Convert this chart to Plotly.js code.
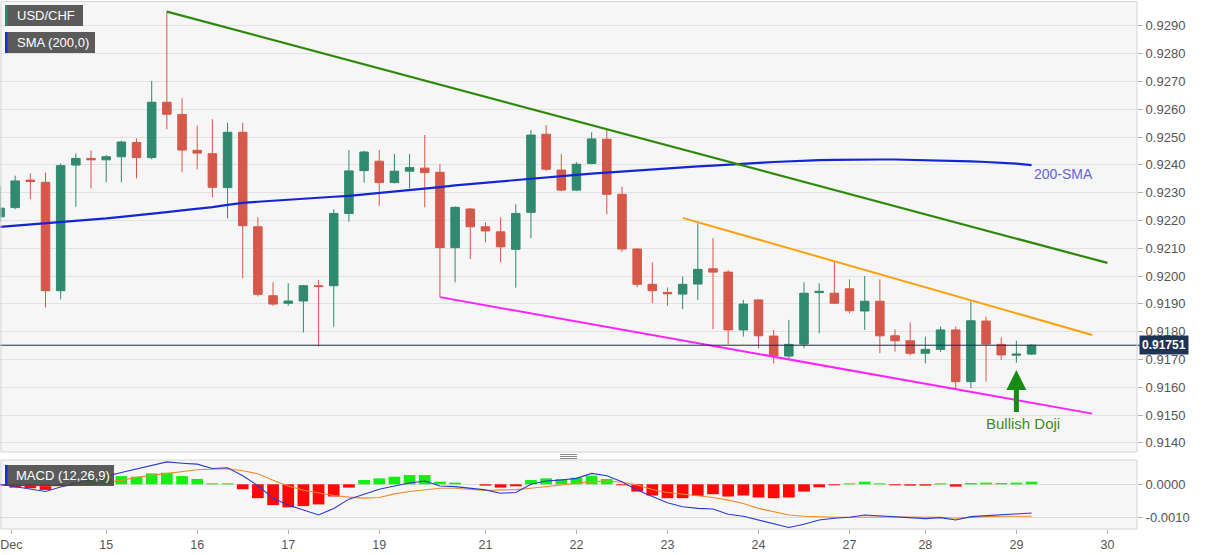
<!DOCTYPE html>
<html>
<head>
<meta charset="utf-8">
<script src="https://cdn.plot.ly/plotly-3.0.1.min.js"></script>
<style>
  html, body { margin: 0; padding: 0; background: #ffffff; }
  #chart { width: 1207px; height: 555px; }
</style>
</head>
<body>
<div id="chart"></div>
<script>
// ---------------- DATA ----------------
const candleIdx = Array.from({length: 69}, (_, i) => i);

const openV = [
  0.92213, 0.92246, 0.92345, 0.92337, 0.91947, 0.92399, 0.92423, 0.92418, 0.92429, 0.92480,
  0.92426, 0.92625, 0.92581, 0.92452, 0.92440, 0.92318, 0.92517, 0.92177, 0.91929, 0.91902,
  0.91910, 0.91965, 0.91965, 0.92225, 0.92379, 0.92413, 0.92336, 0.92377, 0.92388, 0.92373,
  0.92102, 0.92241, 0.92177, 0.92159, 0.92096, 0.92229, 0.92510, 0.92381, 0.92309, 0.92405,
  0.92492, 0.92294, 0.92097, 0.91970, 0.91941, 0.91935, 0.91971, 0.92026, 0.92014, 0.91806,
  0.91914, 0.91784, 0.91712, 0.91755, 0.91940, 0.91938, 0.91954, 0.91874, 0.91909, 0.91785,
  0.91767, 0.91722, 0.91736, 0.91806, 0.91620, 0.91838, 0.91754, 0.91715, 0.91719
];
const highV = [
  0.92324, 0.92361, 0.92369, 0.92372, 0.92405, 0.92441, 0.92451, 0.92435, 0.92487, 0.92495,
  0.92701, 0.92951, 0.92639, 0.92541, 0.92564, 0.92551, 0.92551, 0.92211, 0.91977, 0.91974,
  0.91968, 0.91986, 0.92240, 0.92453, 0.92450, 0.92453, 0.92439, 0.92439, 0.92507, 0.92402,
  0.92250, 0.92245, 0.92193, 0.92211, 0.92258, 0.92525, 0.92543, 0.92439, 0.92409, 0.92517,
  0.92525, 0.92321, 0.92100, 0.92049, 0.91959, 0.91998, 0.92190, 0.92136, 0.92022, 0.91914,
  0.91916, 0.91806, 0.91842, 0.91977, 0.91974, 0.92051, 0.91988, 0.92000, 0.91988, 0.91808,
  0.91833, 0.91782, 0.91818, 0.91818, 0.91908, 0.91854, 0.91779, 0.91767, 0.91754
];
const lowV = [
  0.92195, 0.92240, 0.92276, 0.91887, 0.91916, 0.92249, 0.92315, 0.92337, 0.92337, 0.92351,
  0.92420, 0.92528, 0.92373, 0.92384, 0.92283, 0.92207, 0.91992, 0.91926, 0.91893, 0.91893,
  0.91797, 0.91746, 0.91818, 0.92195, 0.92336, 0.92252, 0.92333, 0.92315, 0.92247, 0.91924,
  0.91977, 0.92061, 0.92121, 0.92049, 0.91958, 0.92136, 0.92378, 0.92305, 0.92305, 0.92402,
  0.92222, 0.92087, 0.91959, 0.91902, 0.91893, 0.91881, 0.91914, 0.91809, 0.91754, 0.91782,
  0.91740, 0.91686, 0.91698, 0.91740, 0.91794, 0.91900, 0.91866, 0.91806, 0.91722, 0.91728,
  0.91715, 0.91686, 0.91727, 0.91596, 0.91596, 0.91620, 0.91698, 0.91688, 0.91716
];
const closeV = [
  0.92244, 0.92342, 0.92340, 0.91947, 0.92397, 0.92423, 0.92418, 0.92429, 0.92482, 0.92426,
  0.92625, 0.92582, 0.92453, 0.92442, 0.92319, 0.92517, 0.92181, 0.91934, 0.91899, 0.91910,
  0.91965, 0.91962, 0.92225, 0.92378, 0.92446, 0.92336, 0.92377, 0.92390, 0.92372, 0.92102,
  0.92247, 0.92177, 0.92162, 0.92105, 0.92225, 0.92507, 0.92384, 0.92309, 0.92402, 0.92493,
  0.92294, 0.92097, 0.91970, 0.91947, 0.91936, 0.91970, 0.92024, 0.92014, 0.91806, 0.91899,
  0.91785, 0.91712, 0.91754, 0.91938, 0.91945, 0.91902, 0.91875, 0.91909, 0.91785, 0.91767,
  0.91722, 0.91736, 0.91806, 0.91620, 0.91839, 0.91755, 0.91716, 0.91719, 0.91751
];
const sma200 = [
  0.92177, 0.92181, 0.92185, 0.92189, 0.92194, 0.92198, 0.92202, 0.92207, 0.92213, 0.92218,
  0.92224, 0.92230, 0.92236, 0.92241, 0.92248, 0.92256, 0.92263, 0.92267, 0.92271, 0.92275,
  0.92278, 0.92282, 0.92285, 0.92288, 0.92293, 0.92298, 0.92304, 0.92309, 0.92315, 0.92320,
  0.92326, 0.92331, 0.92335, 0.92340, 0.92345, 0.92350, 0.92355, 0.92360, 0.92364, 0.92368,
  0.92372, 0.92375, 0.92378, 0.92382, 0.92386, 0.92390, 0.92394, 0.92397, 0.92401, 0.92404,
  0.92407, 0.92410, 0.92413, 0.92415, 0.92417, 0.92418, 0.92419, 0.92419, 0.92419, 0.92419,
  0.92418, 0.92417, 0.92415, 0.92414, 0.92412, 0.92410, 0.92408, 0.92404, 0.92399
];
const macdLine = [
  0.00000, -0.00007, -0.00014, -0.00022, -0.00008, 0.00002, 0.00012, 0.00024, 0.00036, 0.00046,
  0.00058, 0.00068, 0.00064, 0.00061, 0.00048, 0.00050, 0.00026, -0.00004, -0.00042, -0.00063,
  -0.00078, -0.00093, -0.00073, -0.00045, -0.00030, -0.00015, -0.00005, 0.00004, 0.00010, -0.00005,
  -0.00007, -0.00012, -0.00017, -0.00027, -0.00025, 0.00000, 0.00010, 0.00013, 0.00018, 0.00033,
  0.00026, 0.00008, -0.00017, -0.00037, -0.00056, -0.00068, -0.00073, -0.00075, -0.00091, -0.00097,
  -0.00109, -0.00121, -0.00131, -0.00121, -0.00108, -0.00103, -0.00100, -0.00093, -0.00096, -0.00099,
  -0.00101, -0.00104, -0.00101, -0.00108, -0.00098, -0.00095, -0.00093, -0.00091, -0.00087
];
const signalLine = [
  -0.00002, -0.00003, -0.00004, -0.00005, -0.00005, -0.00003, 0.00000, 0.00005, 0.00012, 0.00021,
  0.00027, 0.00033, 0.00039, 0.00044, 0.00046, 0.00047, 0.00041, 0.00032, 0.00012, -0.00005,
  -0.00018, -0.00027, -0.00034, -0.00039, -0.00042, -0.00040, -0.00029, -0.00022, -0.00016, -0.00012,
  -0.00012, -0.00016, -0.00019, -0.00017, -0.00016, -0.00012, -0.00007, -0.00002, 0.00003, 0.00008,
  0.00010, 0.00006, -0.00002, -0.00016, -0.00025, -0.00030, -0.00034, -0.00040, -0.00048, -0.00058,
  -0.00073, -0.00083, -0.00093, -0.00097, -0.00099, -0.00100, -0.00100, -0.00099, -0.00099, -0.00099,
  -0.00099, -0.00099, -0.00100, -0.00103, -0.00100, -0.00098, -0.00097, -0.00097, -0.00097
];
const macdHist = [
  -0.00005, -0.00010, -0.00012, -0.00017, -0.00005, 0.00005, 0.00012, 0.00020, 0.00025, 0.00023,
  0.00033, 0.00035, 0.00025, 0.00016, 0.00003, 0.00003, -0.00015, -0.00042, -0.00063, -0.00070,
  -0.00066, -0.00061, -0.00037, -0.00010, 0.00013, 0.00018, 0.00023, 0.00028, 0.00028, 0.00008,
  0.00005, 0.00000, -0.00004, -0.00010, -0.00006, 0.00013, 0.00018, 0.00016, 0.00020, 0.00026,
  0.00016, -0.00003, -0.00022, -0.00034, -0.00042, -0.00042, -0.00035, -0.00030, -0.00037, -0.00034,
  -0.00040, -0.00042, -0.00040, -0.00022, -0.00009, -0.00003, 0.00003, 0.00008, 0.00003, -0.00003,
  -0.00004, -0.00004, 0.00003, -0.00007, 0.00004, 0.00005, 0.00004, 0.00005, 0.00008
];

// trend lines (anchor candle index, price)
const greenTrendX = [11, 73];
const greenTrendY = [0.92951, 0.92047];
const orangeTrendX = [45, 72];
const orangeTrendY = [0.92209, 0.91788];
const magentaTrendX = [29, 72];
const magentaTrendY = [0.91924, 0.91505];

const currentPrice = 0.91751;
const dojiIdx = 67;
const arrowTip = 0.91662;
const arrowTail = 0.91505;
const dojiTextY = 0.91468;
const smaLabelX = 68;
const smaLabelY = 0.92367;

const tickIdx = [0.75, 7, 13, 19, 25, 32, 38, 44, 50, 56, 61, 67, 73];
const tickLabels = ['Dec', '15', '16', '17', '19', '21', '22', '23', '24', '27', '28', '29', '30'];
const priceTicks = [0.9140, 0.9150, 0.9160, 0.9170, 0.9180, 0.9190, 0.9200, 0.9210, 0.9220,
                    0.9230, 0.9240, 0.9250, 0.9260, 0.9270, 0.9280, 0.9290];
const macdTicks = [0, -0.001];
const macdTickLabels = ['0.0000', '-0.0010'];

// ---------------- LAYOUT helpers (pixel -> paper) ----------------
const W = 1207, H = 555, ML = 0, MR = 70, MT = 1, MB = 26;
const PW = W - ML - MR, PH = H - MT - MB;
const px = x => (x - ML) / PW;
const py = y => (H - MB - y) / PH;

const FONT = 'Liberation Sans, Arial, sans-serif';
const UP = '#2f8a6f', DOWN = '#d5584a';

const traces = [
  {
    type: 'candlestick', x: candleIdx, open: openV, high: highV, low: lowV, close: closeV,
    xaxis: 'x', yaxis: 'y', whiskerwidth: 0,
    increasing: {line: {color: UP, width: 1}, fillcolor: UP},
    decreasing: {line: {color: DOWN, width: 1}, fillcolor: DOWN},
    hoverinfo: 'skip'
  },
  { type: 'scatter', mode: 'lines', x: candleIdx, y: sma200, xaxis: 'x', yaxis: 'y',
    line: {color: '#1426d4', width: 2.2}, hoverinfo: 'skip' },
  { type: 'scatter', mode: 'lines', x: greenTrendX, y: greenTrendY, xaxis: 'x', yaxis: 'y',
    line: {color: '#2f8a0c', width: 2.2}, hoverinfo: 'skip' },
  { type: 'scatter', mode: 'lines', x: orangeTrendX, y: orangeTrendY, xaxis: 'x', yaxis: 'y',
    line: {color: '#ffa010', width: 2}, hoverinfo: 'skip' },
  { type: 'scatter', mode: 'lines', x: magentaTrendX, y: magentaTrendY, xaxis: 'x', yaxis: 'y',
    line: {color: '#ff22ff', width: 2}, hoverinfo: 'skip' },
  { type: 'bar', x: candleIdx, y: macdHist, xaxis: 'x', yaxis: 'y2',
    marker: {color: macdHist.map(v => v >= 0 ? '#14ee14' : '#ff0808'), line: {width: 0}},
    hoverinfo: 'skip' },
  { type: 'scatter', mode: 'lines', x: candleIdx, y: signalLine, xaxis: 'x', yaxis: 'y2',
    line: {color: '#f08a2c', width: 1.1}, hoverinfo: 'skip' },
  { type: 'scatter', mode: 'lines', x: candleIdx, y: macdLine, xaxis: 'x', yaxis: 'y2',
    line: {color: '#2a3ad0', width: 1.1}, hoverinfo: 'skip' }
];

const topDomain = [py(452), py(MT)];
const macdDomain = [py(529), py(460)];

const shapes = [
  // current price line
  {type: 'line', xref: 'paper', yref: 'y', x0: 0, x1: px(1140), y0: currentPrice, y1: currentPrice,
   line: {color: '#1c2d4a', width: 1}, layer: 'above'},
  // panel borders
  {type: 'rect', xref: 'paper', yref: 'paper', x0: px(1), x1: px(1137), y0: py(452), y1: py(1.5),
   line: {color: '#d4d4d4', width: 1}, fillcolor: 'rgba(0,0,0,0)', layer: 'above'},
  {type: 'rect', xref: 'paper', yref: 'paper', x0: px(1), x1: px(1137), y0: py(529), y1: py(460),
   line: {color: '#d4d4d4', width: 1}, fillcolor: 'rgba(0,0,0,0)', layer: 'above'},
  // panel handle
  {type: 'line', xref: 'paper', yref: 'paper', x0: px(560), x1: px(577), y0: py(454.5), y1: py(454.5), line: {color: '#888', width: 1}},
  {type: 'line', xref: 'paper', yref: 'paper', x0: px(560), x1: px(577), y0: py(456.5), y1: py(456.5), line: {color: '#888', width: 1}},
  {type: 'line', xref: 'paper', yref: 'paper', x0: px(560), x1: px(577), y0: py(458.5), y1: py(458.5), line: {color: '#888', width: 1}},
  // legend boxes
  {type: 'rect', xref: 'paper', yref: 'paper', x0: px(5), x1: px(83), y0: py(26), y1: py(5),
   fillcolor: '#5b5b5b', line: {width: 0}, layer: 'above'},
  {type: 'rect', xref: 'paper', yref: 'paper', x0: px(5), x1: px(7.5), y0: py(26), y1: py(5),
   fillcolor: '#2a8a6e', line: {width: 0}, layer: 'above'},
  {type: 'rect', xref: 'paper', yref: 'paper', x0: px(5), x1: px(95), y0: py(53), y1: py(32),
   fillcolor: '#5b5b5b', line: {width: 0}, layer: 'above'},
  {type: 'rect', xref: 'paper', yref: 'paper', x0: px(5), x1: px(7.5), y0: py(53), y1: py(32),
   fillcolor: '#1b2fd0', line: {width: 0}, layer: 'above'},
  {type: 'rect', xref: 'paper', yref: 'paper', x0: px(5), x1: px(114), y0: py(486), y1: py(465),
   fillcolor: 'rgba(70,70,70,0.88)', line: {width: 0}, layer: 'above'},
  {type: 'rect', xref: 'paper', yref: 'paper', x0: px(5), x1: px(7.5), y0: py(486), y1: py(465),
   fillcolor: '#1b2fd0', line: {width: 0}, layer: 'above'}
];

const annotations = [
  {xref: 'paper', yref: 'paper', x: px(15), y: py(15.5), xanchor: 'left', yanchor: 'middle',
   text: 'USD/CHF', showarrow: false, font: {family: FONT, size: 13, color: '#ffffff'}},
  {xref: 'paper', yref: 'paper', x: px(15), y: py(42.5), xanchor: 'left', yanchor: 'middle',
   text: 'SMA (200,0)', showarrow: false, font: {family: FONT, size: 13, color: '#ffffff'}},
  {xref: 'paper', yref: 'paper', x: px(14), y: py(475.5), xanchor: 'left', yanchor: 'middle',
   text: 'MACD (12,26,9)', showarrow: false, font: {family: FONT, size: 13, color: '#ffffff'}},
  {xref: 'x', yref: 'y', x: smaLabelX, y: smaLabelY, xanchor: 'left', yanchor: 'middle',
   text: '200-SMA', showarrow: false, font: {family: FONT, size: 14, color: '#6464d8'}},
  {xref: 'x', yref: 'y', x: dojiIdx + 0.45, y: dojiTextY, xanchor: 'center', yanchor: 'middle',
   text: 'Bullish Doji', showarrow: false, font: {family: FONT, size: 15, color: '#3c8c24'}},
  {xref: 'x', yref: 'y', axref: 'x', ayref: 'y', x: dojiIdx, y: arrowTip, ax: dojiIdx, ay: arrowTail,
   text: '', showarrow: true, arrowhead: 2, arrowsize: 0.8, arrowwidth: 5, arrowcolor: '#168c16'},
  {xref: 'paper', yref: 'y', x: px(1139), y: currentPrice, xanchor: 'left', yanchor: 'middle',
   text: '<b>' + currentPrice.toFixed(5) + '</b>', showarrow: false, bgcolor: '#1f3455',
   borderpad: 2, font: {family: FONT, size: 12, color: '#ffffff'}}
];

const layout = {
  width: W, height: H,
  margin: {l: ML, r: MR, t: MT, b: MB, pad: 0},
  paper_bgcolor: '#ffffff', plot_bgcolor: '#f6f6f6',
  showlegend: false, hovermode: false, dragmode: false,
  boxgap: 0.2, bargap: 0.23,
  font: {family: FONT, size: 12, color: '#555555'},
  xaxis: {
    anchor: 'y2', range: [0, PW / 15.17], rangeslider: {visible: false},
    tickmode: 'array', tickvals: tickIdx, ticktext: tickLabels, ticklabeloverflow: 'allow',
    ticks: 'outside', ticklen: 4, tickcolor: '#b0b0b0', showgrid: false, zeroline: false,
    showline: false, tickfont: {family: FONT, size: 12.5, color: '#555555'}
  },
  yaxis: {
    domain: topDomain, anchor: 'x', side: 'right',
    range: [0.92 - (452 - 276) / 27800, 0.92 + (276 - MT) / 27800],
    tickmode: 'array', tickvals: priceTicks, tickformat: '.4f',
    ticks: 'outside', ticklen: 5, tickcolor: '#b0b0b0',
    showgrid: true, gridcolor: '#e2e2e2', gridwidth: 1, zeroline: false, showline: false,
    tickfont: {family: FONT, size: 13, color: '#555555'}
  },
  yaxis2: {
    domain: macdDomain, anchor: 'x', side: 'right',
    range: [-(529 - 484.3) / 33000, (484.3 - 460) / 33000],
    tickmode: 'array', tickvals: macdTicks, ticktext: macdTickLabels,
    ticks: 'outside', ticklen: 5, tickcolor: '#b0b0b0',
    showgrid: true, gridcolor: '#dcdcdc', zeroline: false, showline: false,
    tickfont: {family: FONT, size: 13, color: '#555555'}
  },
  shapes: shapes,
  annotations: annotations
};

Plotly.newPlot('chart', traces, layout, {staticPlot: true, displayModeBar: false});
</script>
</body>
</html>
